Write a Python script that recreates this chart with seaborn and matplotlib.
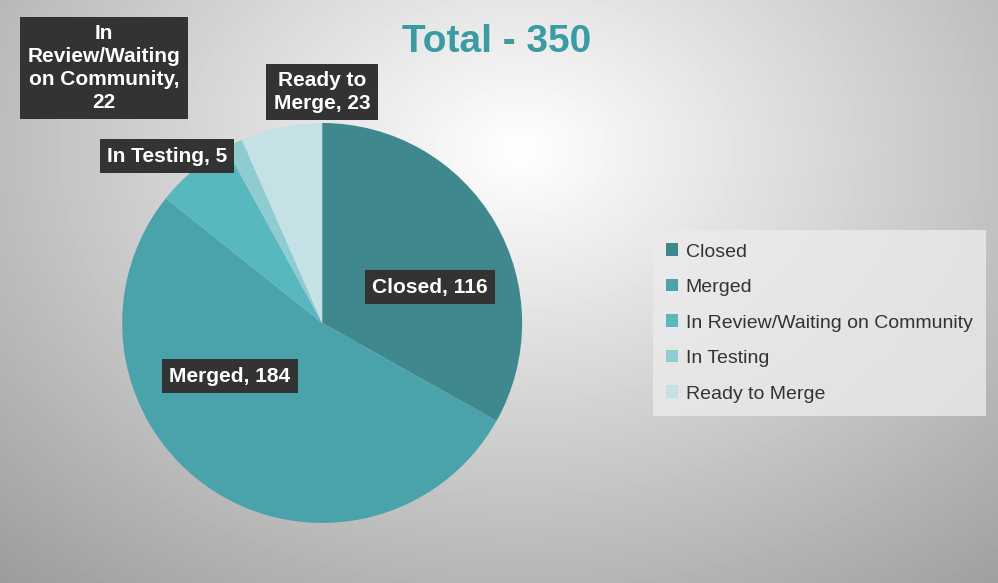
import numpy as np
import matplotlib
matplotlib.use("Agg")
import matplotlib.pyplot as plt
from matplotlib.patches import Patch
import seaborn as sns

categories = ["Closed", "Merged", "In Review/Waiting on Community", "In Testing", "Ready to Merge"]
values = [116, 184, 22, 5, 23]
label_texts = ["Closed, 116", "Merged, 184", "In\nReview/Waiting\non Community,\n22", "In Testing, 5", "Ready to\nMerge, 23"]
colors = ["#3F898E", "#4AA2AA", "#58B8C0", "#8ECCD2", "#C4E2E5"]

sns.set_theme(style="white")
plt.rcParams['font.family'] = ['Liberation Sans', 'DejaVu Sans']

fig = plt.figure(figsize=(9.98, 5.83), dpi=100)
bg = fig.add_axes([0, 0, 1, 1])
yy, xx = np.mgrid[0:583, 0:998]
r = np.hypot((xx - 520) / 800, (yy - 150) / 600)
bg.imshow(1 - 0.4 * np.clip(r, 0, 1), cmap="gray", vmin=0, vmax=1, aspect="auto")
bg.axis("off")

ax = fig.add_axes([0.1223, 0.103, 0.401, 0.686])
ax.pie(values, colors=colors, startangle=90, counterclock=False,
       wedgeprops=dict(linewidth=0))
ax.set_xlim(-1, 1)
ax.set_ylim(-1, 1)
ax.set_aspect("equal")

box = dict(boxstyle="square,pad=0.35", facecolor="#333333", edgecolor="none")
pos = [(430, 287), (230, 376), (104, 68), (167, 156), (322, 92)]
for t, (x, y) in zip(label_texts, pos):
    fig.text(x / 998, 1 - y / 583, t, color="white", fontsize=15, fontweight="bold",
             ha="center", va="center", bbox=box, linespacing=1.25)

fig.text(497 / 998, 1 - 42 / 583, "Total - 350", color="#3A9BA2", fontsize=28,
         fontweight="bold", ha="center", va="center")

handles = [Patch(facecolor=c, edgecolor="none") for c in colors]
leg = fig.legend(handles, categories, loc="center left", bbox_to_anchor=(643 / 998, 1 - 323 / 583),
                 fontsize=14, frameon=True, fancybox=False, handlelength=0.6, handleheight=0.6,
                 handletextpad=0.4, labelspacing=0.95, borderpad=0.7)
leg.get_frame().set_facecolor("#EBEBEB")
leg.get_frame().set_edgecolor("none")
for t in leg.get_texts():
    t.set_color("#333333")

fig.savefig("out.png", dpi=100)
